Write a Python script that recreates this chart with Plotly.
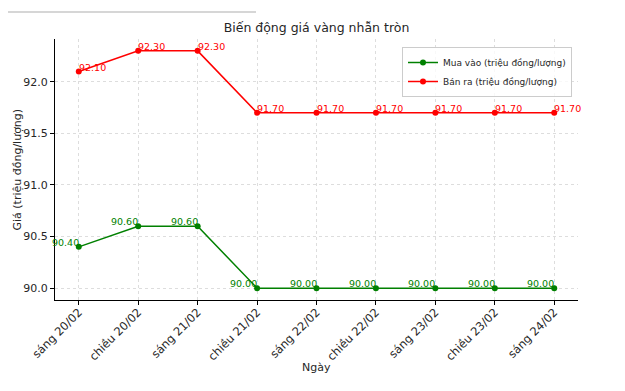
import plotly.graph_objects as go

categories = ["sáng 20/02", "chiều 20/02", "sáng 21/02", "chiều 21/02", "sáng 22/02",
              "chiều 22/02", "sáng 23/02", "chiều 23/02", "sáng 24/02"]
mua_vao = [90.40, 90.60, 90.60, 90.00, 90.00, 90.00, 90.00, 90.00, 90.00]
ban_ra = [92.10, 92.30, 92.30, 91.70, 91.70, 91.70, 91.70, 91.70, 91.70]
y_ticks = [90.0, 90.5, 91.0, 91.5, 92.0]

FONT = "DejaVu Sans"
PW, PH = 523, 261  # plot area size in px

fig = go.Figure()
fig.add_trace(go.Scatter(x=categories, y=mua_vao, mode="lines+markers",
                         name="Mua vào (triệu đồng/lượng)",
                         line=dict(color="green", width=1.5), marker=dict(size=6, color="green")))
fig.add_trace(go.Scatter(x=categories, y=ban_ra, mode="lines+markers",
                         name="Bán ra (triệu đồng/lượng)",
                         line=dict(color="red", width=1.5), marker=dict(size=6, color="red")))

for c, v in zip(categories, mua_vao):
    fig.add_annotation(x=c, y=v, text=f"{v:.2f}", showarrow=False, xanchor="right",
                       yanchor="bottom", yshift=-3, xshift=2,
                       font=dict(color="green", size=9.5, family=FONT))
for c, v in zip(categories, ban_ra):
    fig.add_annotation(x=c, y=v, text=f"{v:.2f}", showarrow=False, xanchor="left",
                       yanchor="bottom", yshift=-3, xshift=-2,
                       font=dict(color="red", size=9.5, family=FONT))

# axis titles
fig.add_annotation(xref="paper", yref="paper", x=0.5, y=-67 / PH, text="Ngày", showarrow=False,
                   xanchor="center", yanchor="middle", font=dict(size=11, family=FONT, color="#262626"))
fig.add_annotation(xref="paper", yref="paper", x=(9 - 47) / PW, y=0.5, text="Giá (triệu đồng/lượng)",
                   showarrow=False, textangle=-90, xanchor="center", yanchor="middle",
                   font=dict(size=11, family=FONT, color="#262626"))

fig.add_shape(type="line", xref="paper", yref="paper", x0=-48 / PW, x1=201 / PW,
              y0=1 + 27 / PH, y1=1 + 27 / PH, line=dict(color="#c8c8c8", width=1.5))

fig.update_layout(
    width=609, height=375,
    margin=dict(l=47, r=39, t=31, b=83, autoexpand=False),
    paper_bgcolor="white", plot_bgcolor="white",
    font=dict(family=FONT, size=11, color="#262626"),
    title=dict(text="Biến động giá vàng nhẫn tròn", x=(47 + PW / 2) / 609, xanchor="center",
               y=1 - 20 / 375, yanchor="middle", font=dict(size=12.5, color="#262626")),
    legend=dict(x=517 / PW, xanchor="right", y=1 - 8 / PH, yanchor="top",
                bordercolor="#cccccc", borderwidth=1, bgcolor="rgba(255,255,255,0.8)",
                font=dict(size=9), tracegroupgap=0),
    showlegend=True,
)
fig.update_xaxes(
    range=[-0.4, 8.4], tickangle=-45, showline=True, linecolor="black", linewidth=1,
    ticks="outside", ticklen=4, tickcolor="black", automargin=False,
    showgrid=True, gridcolor="#dddddd", griddash="dot", gridwidth=1,
    tickfont=dict(size=11.5), ticklabelstandoff=-4,
)
fig.update_yaxes(
    range=[89.885, 92.415], tickvals=y_ticks, ticktext=[f"{v:.1f}" for v in y_ticks],
    showline=True, linecolor="black", linewidth=1, automargin=False,
    ticks="outside", ticklen=4, tickcolor="black",
    showgrid=True, gridcolor="#dddddd", griddash="dot", gridwidth=1, zeroline=False,
    tickfont=dict(size=11),
)
fig.write_html("out.html")
